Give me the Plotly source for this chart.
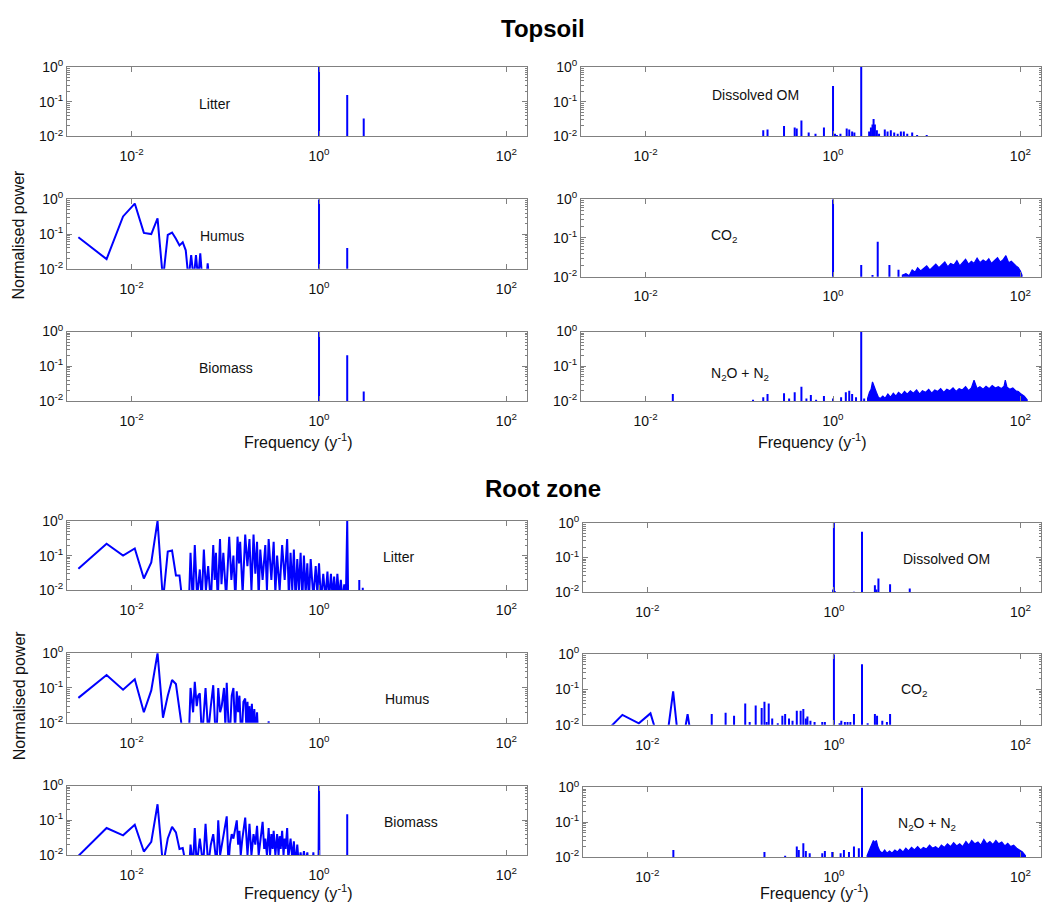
import plotly.graph_objects as go

W, H = 1042, 920
BLUE = "#0000ff"
AXC = "#808080"
FLOOR = 1e-3

# ------------------------------------------------------------------ data
tick_vals_x = [0.01, 1, 100]
tick_text_x = ["10<sup>-2</sup>", "10<sup>0</sup>", "10<sup>2</sup>"]
tick_vals_y = [0.01, 0.1, 1]
tick_text_y = ["10<sup>-2</sup>", "10<sup>-1</sup>", "10<sup>0</sup>"]

# ---- Topsoil
ts_litter_stem_f = [1.0, 2.0, 3.0]
ts_litter_stem_p = [1.0, 0.155, 0.033]

ts_dom_stem_f = [0.18, 0.2, 0.30, 0.39, 0.41, 0.46, 0.55, 0.65, 0.8, 1.0,
                 1.05, 1.1, 1.2, 1.4, 1.49, 1.6, 1.69, 2.0, 2.43, 2.54,
                 2.64, 2.71, 2.8, 2.94, 3.1, 3.57, 3.82, 4.14, 4.5, 4.9,
                 5.3, 5.7, 6.2, 7.0, 7.9, 10.0]
ts_dom_stem_p = [0.015, 0.016, 0.02, 0.018, 0.017, 0.029, 0.013, 0.012, 0.018, 0.28,
                 0.012, 0.011, 0.012, 0.017, 0.016, 0.014, 0.013, 1.0, 0.014, 0.018,
                 0.022, 0.032, 0.022, 0.015, 0.012, 0.016, 0.014, 0.015, 0.013, 0.012,
                 0.014, 0.014, 0.012, 0.013, 0.011, 0.011]

ts_humus_line_f = [0.0027, 0.0054, 0.0081, 0.0108, 0.0135, 0.0162, 0.0189, 0.0216, 0.0243, 0.0270,
                   0.0297, 0.0324, 0.0351, 0.0378, 0.0405, 0.0432, 0.0459, 0.0486, 0.0513, 0.0540,
                   0.0567, 0.0594, 0.0621, 0.0648, 0.0675]
ts_humus_line_p = [0.081, 0.019, 0.32, 0.75, 0.108, 0.10, 0.28, 0.005, 0.095, 0.11,
                   0.073, 0.047, 0.058, 0.034, 0.005, 0.025, 0.005, 0.025, 0.005, 0.028,
                   0.005, 0.004, 0.003, 0.0145, 0.004]
ts_humus_stem_f = [1.0, 2.0]
ts_humus_stem_p = [1.0, 0.04]

ts_co2_stem_f = [1.0, 2.0, 2.64, 3.0, 4.0, 5.0]
ts_co2_stem_p = [1.0, 0.02, 0.011, 0.08, 0.02, 0.015]
ts_co2_band_f = [5.5, 6.0, 6.5, 7.0, 7.5, 8.0, 8.6, 9.2, 10, 10.8,
                 11.6, 12.5, 13.5, 14.5, 15.6, 16.8, 18, 19.5, 21, 22.5,
                 24, 26, 28, 30, 32, 34.5, 37, 40, 43, 46,
                 49, 53, 57, 61, 65, 70, 75, 80, 85, 90,
                 95, 100, 104]
ts_co2_band_p = [0.011, 0.012, 0.0105, 0.015, 0.013, 0.017, 0.014, 0.016, 0.019, 0.015,
                 0.018, 0.021, 0.017, 0.02, 0.024, 0.018, 0.022, 0.02, 0.026, 0.019,
                 0.023, 0.028, 0.021, 0.025, 0.022, 0.03, 0.023, 0.027, 0.024, 0.029,
                 0.022, 0.026, 0.031, 0.024, 0.027, 0.035, 0.023, 0.025, 0.021, 0.019,
                 0.017, 0.014, 0.011]

ts_biomass_stem_f = [1.0, 2.0, 3.0]
ts_biomass_stem_p = [1.0, 0.21, 0.019]

ts_n2o_stem_f = [0.0195, 0.14, 0.18, 0.2, 0.3, 0.34, 0.39, 0.46, 0.52, 0.58,
                 0.66, 0.8, 1.0, 1.22, 1.37, 1.49, 1.6, 1.76, 2.0, 2.15]
ts_n2o_stem_p = [0.016, 0.011, 0.013, 0.016, 0.017, 0.012, 0.018, 0.026, 0.012, 0.015,
                 0.011, 0.014, 0.012, 0.013, 0.018, 0.02, 0.016, 0.013, 1.0, 0.012]
ts_n2o_band_f = [2.34, 2.45, 2.55, 2.64, 2.75, 2.9, 3.05, 3.2, 3.4, 3.6,
                 3.85, 4.1, 4.4, 4.7, 5.0, 5.4, 5.8, 6.2, 6.7, 7.2,
                 7.8, 8.4, 9.0, 9.7, 10.5, 11.3, 12.2, 13.1, 14.1, 15.2,
                 16.4, 17.7, 19.1, 20.6, 22.2, 24, 26, 28, 30, 32,
                 34.5, 37, 40, 43, 46.5, 50, 54, 58, 62.5, 67,
                 69, 72, 77, 83, 89, 95, 102, 110, 118]
ts_n2o_band_p = [0.012, 0.018, 0.022, 0.036, 0.025, 0.018, 0.013, 0.012, 0.014, 0.012,
                 0.016, 0.013, 0.017, 0.014, 0.018, 0.015, 0.019, 0.016, 0.02, 0.017,
                 0.021, 0.016, 0.02, 0.018, 0.022, 0.017, 0.021, 0.019, 0.023, 0.018,
                 0.022, 0.02, 0.024, 0.019, 0.023, 0.021, 0.026, 0.02, 0.024, 0.04,
                 0.023, 0.026, 0.022, 0.027, 0.023, 0.028, 0.024, 0.026, 0.023, 0.027,
                 0.04, 0.025, 0.022, 0.024, 0.02, 0.019, 0.016, 0.014, 0.011]

# ---- Root zone
rz_litter_line_f = [0.0027, 0.0054, 0.0081, 0.0108, 0.0135, 0.0162, 0.0189, 0.0216, 0.0243, 0.0270,
                    0.0297, 0.0324, 0.0351, 0.0378, 0.0405, 0.0425, 0.0450, 0.0472, 0.0500, 0.0534,
                    0.0560, 0.0590, 0.0620, 0.0656, 0.0700, 0.0743, 0.0770, 0.0794, 0.0830, 0.0877,
                    0.0910, 0.0952, 0.1020, 0.1100, 0.1160, 0.1220, 0.1280, 0.1350, 0.1400, 0.1440,
                    0.1530, 0.1630, 0.1720, 0.1810, 0.1900, 0.2000, 0.2090, 0.2180, 0.2270, 0.2360,
                    0.2500, 0.2670, 0.2780, 0.2900, 0.3100, 0.3280, 0.3420, 0.3570, 0.3800, 0.4040,
                    0.4300, 0.4570, 0.4770, 0.4970, 0.5180, 0.5390, 0.5620, 0.5860, 0.6100, 0.6360,
                    0.6630, 0.6900, 0.7200, 0.7500, 0.7800, 0.8150, 0.8700, 0.9220, 0.9600, 1.0000,
                    1.0500, 1.1100, 1.1700, 1.2300, 1.2800, 1.3400, 1.4000, 1.4500, 1.5100, 1.5700,
                    1.6400, 1.7100, 1.7800, 1.8600, 1.9300, 2.0000, 2.0500]
rz_litter_line_p = [0.042, 0.22, 0.10, 0.16, 0.022, 0.064, 1.0, 0.005, 0.13, 0.14,
                    0.027, 0.027, 0.004, 0.003, 0.002, 0.12, 0.004, 0.20, 0.006, 0.04,
                    0.005, 0.15, 0.01, 0.05, 0.004, 0.20, 0.02, 0.12, 0.005, 0.30,
                    0.015, 0.12, 0.006, 0.35, 0.02, 0.10, 0.005, 0.35, 0.06, 0.25,
                    0.008, 0.40, 0.05, 0.30, 0.01, 0.40, 0.03, 0.25, 0.006, 0.15,
                    0.02, 0.20, 0.01, 0.30, 0.02, 0.25, 0.008, 0.10, 0.01, 0.20,
                    0.02, 0.30, 0.006, 0.12, 0.01, 0.15, 0.005, 0.08, 0.01, 0.12,
                    0.005, 0.10, 0.008, 0.06, 0.005, 0.08, 0.006, 0.05, 0.008, 0.06,
                    0.005, 0.03, 0.006, 0.035, 0.005, 0.03, 0.006, 0.025, 0.005, 0.03,
                    0.006, 0.02, 0.005, 0.015, 0.004, 1.0, 0.004]
rz_litter_stem_f = [2.69, 2.93]
rz_litter_stem_p = [0.02, 0.012]

rz_dom_stem_f = [0.98, 1.0, 1.02, 1.64, 2.0, 2.75, 2.85, 3.0, 4.0, 6.5]
rz_dom_stem_p = [0.012, 1.0, 0.011, 0.0105, 0.55, 0.016, 0.012, 0.025, 0.017, 0.013]

rz_humus_line_f = [0.0027, 0.0054, 0.0081, 0.0108, 0.0135, 0.0162, 0.0189, 0.0216, 0.0243, 0.0270,
                   0.0297, 0.0324, 0.0351, 0.0378, 0.0405, 0.0425, 0.0453, 0.0472, 0.0495, 0.0513,
                   0.0534, 0.0560, 0.0580, 0.0615, 0.0635, 0.0656, 0.0700, 0.0743, 0.0775, 0.0807,
                   0.0840, 0.0880, 0.0915, 0.0968, 0.1000, 0.1035, 0.1080, 0.1120, 0.1170, 0.1220,
                   0.1270, 0.1325, 0.1370, 0.1415, 0.1460, 0.1500, 0.1560, 0.1630, 0.1680, 0.1725,
                   0.1770, 0.1810, 0.1870, 0.1920, 0.1980, 0.2040, 0.2100, 0.2180, 0.2250, 0.2800,
                   0.2900, 0.3000]
rz_humus_line_p = [0.052, 0.235, 0.089, 0.177, 0.02, 0.085, 1.0, 0.014, 0.06, 0.17,
                   0.13, 0.024, 0.005, 0.003, 0.002, 0.10, 0.02, 0.15, 0.03, 0.06,
                   0.07, 0.005, 0.01, 0.10, 0.02, 0.005, 0.03, 0.12, 0.01, 0.005,
                   0.10, 0.02, 0.03, 0.10, 0.008, 0.14, 0.01, 0.005, 0.06, 0.10,
                   0.006, 0.08, 0.02, 0.06, 0.008, 0.005, 0.04, 0.05, 0.006, 0.04,
                   0.005, 0.03, 0.005, 0.035, 0.005, 0.025, 0.004, 0.02, 0.003, 0.003,
                   0.011, 0.003]

rz_co2_line_f = [0.0027, 0.0054, 0.0081, 0.0108, 0.0135, 0.0162, 0.0189, 0.0216, 0.0243, 0.0270,
                 0.0297, 0.0324]
rz_co2_line_p = [0.003, 0.019, 0.011, 0.021, 0.003, 0.004, 0.088, 0.003, 0.004, 0.02,
                 0.004, 0.002]
rz_co2_stem_f = [0.049, 0.069, 0.085, 0.112, 0.125, 0.145, 0.168, 0.18, 0.19, 0.2,
                 0.218, 0.25, 0.28, 0.30, 0.33, 0.36, 0.40, 0.44, 0.47, 0.50,
                 0.52, 0.56, 0.62, 0.75, 0.8, 1.0, 1.15, 1.2, 1.31, 1.4,
                 1.5, 1.64, 2.0, 2.3, 2.75, 2.9, 3.3, 3.7, 4.0]
rz_co2_stem_p = [0.02, 0.022, 0.018, 0.04, 0.012, 0.035, 0.03, 0.045, 0.012, 0.04,
                 0.015, 0.011, 0.018, 0.02, 0.015, 0.013, 0.025, 0.025, 0.028, 0.015,
                 0.017, 0.013, 0.012, 0.012, 0.012, 1.0, 0.011, 0.013, 0.012, 0.012,
                 0.012, 0.02, 0.52, 0.011, 0.02, 0.018, 0.013, 0.012, 0.02]

rz_biomass_line_f = [0.0027, 0.0054, 0.0081, 0.0108, 0.0135, 0.0162, 0.0189, 0.0216, 0.0243, 0.0270,
                     0.0297, 0.0324, 0.0351, 0.0378, 0.0405, 0.0425, 0.0453, 0.0472, 0.0495, 0.0534,
                     0.0580, 0.0615, 0.0656, 0.0700, 0.0743, 0.0807, 0.0840, 0.0880, 0.0915, 0.0968,
                     0.1035, 0.1080, 0.1120, 0.1170, 0.1220, 0.1325, 0.1370, 0.1415, 0.1460, 0.1520,
                     0.1630, 0.1725, 0.1810, 0.1900, 0.2000, 0.2090, 0.2180, 0.2270, 0.2360, 0.2500,
                     0.2600, 0.2670, 0.2780, 0.2900, 0.3000, 0.3100, 0.3200, 0.3280, 0.3420, 0.3570,
                     0.3700, 0.3800, 0.3900, 0.4040, 0.4180, 0.4300, 0.4400, 0.4570, 0.4700, 0.4970,
                     0.5180, 0.5390, 0.5600, 0.5860, 0.6100, 0.6360, 0.6600, 0.6900, 0.7200, 0.7500,
                     0.7800, 0.8500, 0.8700, 0.8900, 0.9600, 0.9900, 1.0000, 1.0100]
rz_biomass_line_p = [0.0095, 0.06, 0.037, 0.075, 0.0127, 0.024, 0.29, 0.005, 0.03, 0.065,
                     0.045, 0.015, 0.016, 0.004, 0.002, 0.02, 0.005, 0.06, 0.005, 0.03,
                     0.005, 0.08, 0.005, 0.02, 0.04, 0.005, 0.10, 0.01, 0.02, 0.05,
                     0.13, 0.005, 0.02, 0.04, 0.03, 0.10, 0.02, 0.05, 0.01, 0.03,
                     0.12, 0.01, 0.08, 0.01, 0.04, 0.02, 0.07, 0.01, 0.03, 0.09,
                     0.015, 0.03, 0.01, 0.06, 0.01, 0.04, 0.015, 0.05, 0.01, 0.04,
                     0.01, 0.035, 0.015, 0.05, 0.01, 0.03, 0.015, 0.06, 0.008, 0.03,
                     0.008, 0.025, 0.005, 0.02, 0.005, 0.012, 0.005, 0.013, 0.005, 0.012,
                     0.004, 0.004, 0.012, 0.004, 0.004, 0.011, 1.0, 0.004]
rz_biomass_stem_f = [2.0]
rz_biomass_stem_p = [0.15]

rz_n2o_stem_f = [0.019, 0.18, 0.30, 0.40, 0.42, 0.47, 0.5, 0.55, 0.75, 0.8,
                 0.96, 1.18, 1.28, 1.45, 1.64, 1.85, 2.0]
rz_n2o_stem_p = [0.016, 0.014, 0.011, 0.02, 0.016, 0.025, 0.015, 0.013, 0.013, 0.015,
                 0.014, 0.013, 0.016, 0.014, 0.02, 0.018, 1.0]
rz_n2o_band_f = [2.27, 2.4, 2.55, 2.65, 2.75, 2.85, 2.95, 3.1, 3.3, 3.5,
                 3.7, 3.95, 4.2, 4.5, 4.8, 5.1, 5.5, 5.9, 6.3, 6.8,
                 7.3, 7.9, 8.5, 9.1, 9.8, 10.6, 11.4, 12.3, 13.2, 14.2,
                 15.3, 16.5, 17.8, 19.2, 20.7, 22.3, 24, 26, 28, 30,
                 32.5, 35, 37.5, 40.5, 43.5, 47, 50.5, 54.5, 58.5, 63,
                 68, 73, 78.5, 84.5, 91, 98, 105, 113]
rz_n2o_band_p = [0.011, 0.016, 0.022, 0.03, 0.026, 0.03, 0.02, 0.015, 0.013, 0.016,
                 0.013, 0.015, 0.013, 0.016, 0.014, 0.017, 0.014, 0.018, 0.015, 0.019,
                 0.016, 0.02, 0.016, 0.019, 0.017, 0.022, 0.018, 0.02, 0.017, 0.022,
                 0.019, 0.024, 0.02, 0.026, 0.021, 0.024, 0.02, 0.028, 0.022, 0.03,
                 0.024, 0.027, 0.022, 0.032, 0.024, 0.028, 0.023, 0.03, 0.024, 0.027,
                 0.021, 0.025, 0.02, 0.022, 0.018, 0.016, 0.014, 0.011]

# ------------------------------------------------------------------ panels
# (label, pixel box [left, right, top, bottom], label pos px, data)
panels = [
    ("Litter", (67, 527, 58, 129), (214, 96),
     dict(stem=(ts_litter_stem_f, ts_litter_stem_p))),
    ("Dissolved OM", (581, 1041, 58, 129), (755, 87),
     dict(stem=(ts_dom_stem_f, ts_dom_stem_p))),
    ("Humus", (67, 527, 193, 264), (222, 230),
     dict(line=(ts_humus_line_f, ts_humus_line_p), stem=(ts_humus_stem_f, ts_humus_stem_p))),
    ("CO<sub>2</sub>", (581, 1041, 193, 272), (724, 230),
     dict(stem=(ts_co2_stem_f, ts_co2_stem_p), band=(ts_co2_band_f, ts_co2_band_p))),
    ("Biomass", (67, 527, 328, 399), (226, 365),
     dict(stem=(ts_biomass_stem_f, ts_biomass_stem_p))),
    ("N<sub>2</sub>O + N<sub>2</sub>", (581, 1041, 328, 399), (740, 371),
     dict(stem=(ts_n2o_stem_f, ts_n2o_stem_p), band=(ts_n2o_band_f, ts_n2o_band_p))),
    ("Litter", (67, 527, 521, 592), (398, 558),
     dict(line=(rz_litter_line_f, rz_litter_line_p), stem=(rz_litter_stem_f, rz_litter_stem_p))),
    ("Dissolved OM", (583, 1041, 523, 594), (946, 560),
     dict(stem=(rz_dom_stem_f, rz_dom_stem_p))),
    ("Humus", (67, 527, 656, 727), (407, 703),
     dict(line=(rz_humus_line_f, rz_humus_line_p))),
    ("CO<sub>2</sub>", (583, 1041, 657, 729), (914, 694),
     dict(line=(rz_co2_line_f, rz_co2_line_p), stem=(rz_co2_stem_f, rz_co2_stem_p))),
    ("Biomass", (67, 527, 791, 862), (411, 828),
     dict(line=(rz_biomass_line_f, rz_biomass_line_p), stem=(rz_biomass_stem_f, rz_biomass_stem_p))),
    ("N<sub>2</sub>O + N<sub>2</sub>", (583, 1041, 793, 864), (927, 830),
     dict(stem=(rz_n2o_stem_f, rz_n2o_stem_p), band=(rz_n2o_band_f, rz_n2o_band_p))),
]

FONT = "Liberation Sans, Arial, sans-serif"
fig = go.Figure()
annotations = []
minor_y = [k * 10 ** e for e in (-2, -1) for k in range(2, 10)]

for i, (label, (l, r, t, b), (lx, ly), data) in enumerate(panels, start=1):
    xa = "x" if i == 1 else f"x{i}"
    ya = "y" if i == 1 else f"y{i}"
    if "band" in data:
        bf, bp = data["band"]
        fig.add_trace(go.Scatter(
            x=[bf[0]] + list(bf) + [bf[-1]], y=[FLOOR] + list(bp) + [FLOOR],
            mode="lines", fill="toself", fillcolor=BLUE,
            line=dict(color=BLUE, width=1.2), xaxis=xa, yaxis=ya,
            showlegend=False, hoverinfo="skip"))
    if "line" in data:
        lf, lp = data["line"]
        fig.add_trace(go.Scatter(
            x=lf, y=lp, mode="lines", line=dict(color=BLUE, width=2),
            xaxis=xa, yaxis=ya, showlegend=False))
    if "stem" in data:
        sf, sp = data["stem"]
        xs, ys = [], []
        for fi, pi in zip(sf, sp):
            xs += [fi, fi, None]
            ys += [FLOOR, pi, None]
        fig.add_trace(go.Scatter(
            x=xs, y=ys, mode="lines", line=dict(color=BLUE, width=2),
            xaxis=xa, yaxis=ya, showlegend=False))

    axkey = "xaxis" if i == 1 else f"xaxis{i}"
    aykey = "yaxis" if i == 1 else f"yaxis{i}"
    fig.update_layout(**{
        axkey: dict(
            type="log", range=[-2.69, 2.22], domain=[l / W, r / W], anchor=ya,
            tickmode="array", tickvals=tick_vals_x, ticktext=tick_text_x,
            ticks="inside", ticklen=5, tickcolor=AXC, showline=True, linecolor=AXC,
            linewidth=1, mirror="ticks", showgrid=False, zeroline=False,
            ticklabelstandoff=7,
            tickfont=dict(family=FONT, size=14, color="#111")),
        aykey: dict(
            type="log", range=[-2, 0], domain=[1 - b / H, 1 - t / H], anchor=xa,
            tickmode="array", tickvals=tick_vals_y, ticktext=tick_text_y,
            ticks="inside", ticklen=5, tickcolor=AXC, showline=True, linecolor=AXC,
            linewidth=1, mirror="ticks", showgrid=False, zeroline=False,
            minor=dict(ticks="inside", ticklen=2.5, tickcolor=AXC, tickvals=minor_y),
            tickfont=dict(family=FONT, size=14, color="#111")),
    })
    annotations.append(dict(
        text=label, x=lx / W, y=1 - ly / H, xref="paper", yref="paper",
        showarrow=False, xanchor="center", yanchor="middle",
        font=dict(family=FONT, size=14, color="#111")))

# titles and axis labels
for txt, px, py in [("Topsoil", 543, 19), ("Root zone", 543, 488)]:
    annotations.append(dict(text=f"<b>{txt}</b>", x=px / W, y=1 - py / H,
                            xref="paper", yref="paper", showarrow=False,
                            xanchor="center", yanchor="middle",
                            font=dict(family=FONT, size=24, color="#000")))
for py in (229, 699):
    annotations.append(dict(text="Normalised power", x=19 / W, y=1 - py / H,
                            xref="paper", yref="paper", showarrow=False, textangle=-90,
                            xanchor="center", yanchor="middle",
                            font=dict(family=FONT, size=16, color="#111")))
for px, py in [(298, 440), (812, 440), (298, 900), (814, 900)]:
    annotations.append(dict(text="Frequency (y<sup>-1</sup>)", x=px / W, y=1 - py / H,
                            xref="paper", yref="paper", showarrow=False,
                            xanchor="center", yanchor="middle",
                            font=dict(family=FONT, size=16, color="#111")))

fig.update_layout(
    width=W, height=H, margin=dict(l=0, r=0, t=0, b=0),
    paper_bgcolor="white", plot_bgcolor="white",
    annotations=annotations, showlegend=False,
)

fig.write_html("out.html")
